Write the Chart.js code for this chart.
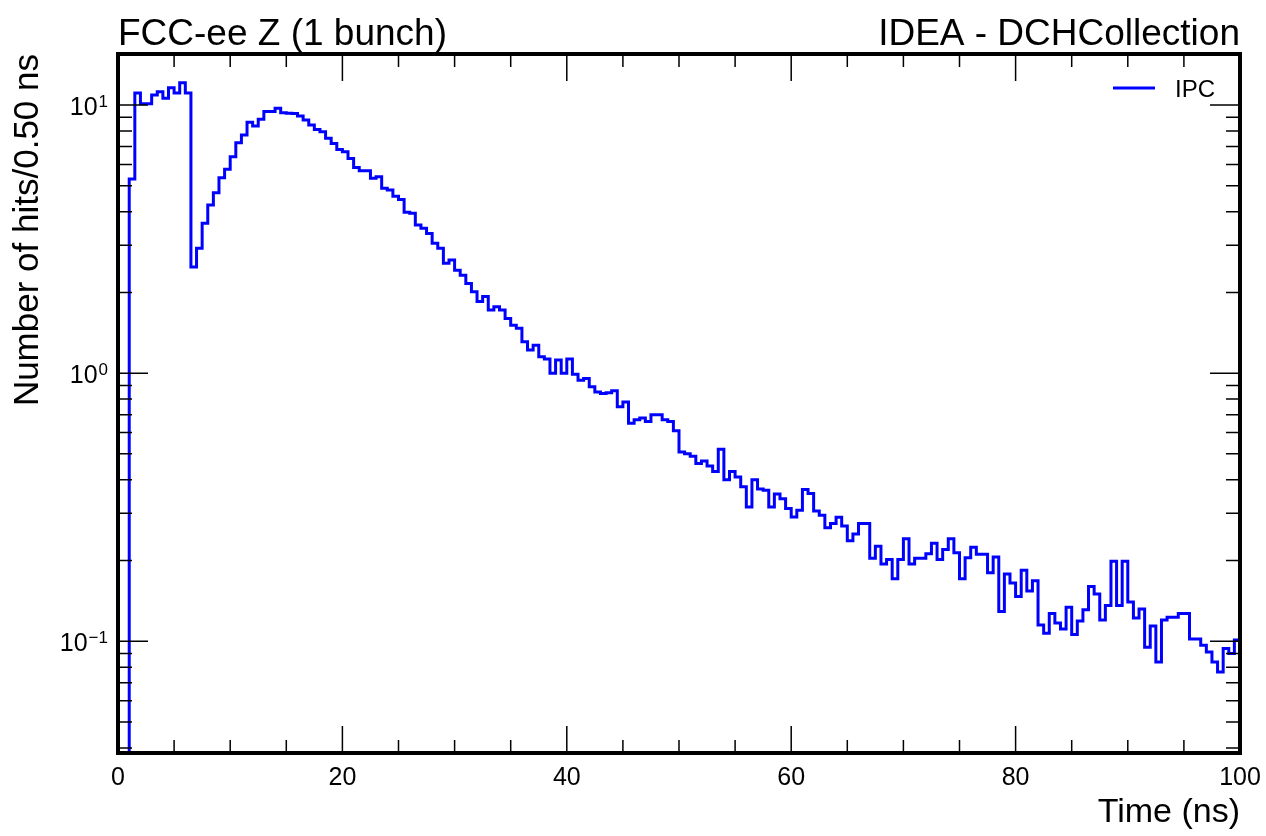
<!DOCTYPE html>
<html>
<head>
<meta charset="utf-8">
<title>DCH hit time</title>
<script src="https://cdn.jsdelivr.net/npm/chart.js@4.4.1/dist/chart.umd.min.js"></script>
<style>
  html, body { margin: 0; padding: 0; background: #fff; }
  canvas { display: block; }
</style>
</head>
<body>
<canvas id="timeChart" width="1266" height="836"></canvas>
<script>
// Hit time distribution, 0.5 ns bins from 0 to 100 ns
const binWidth = 0.5;
const hitsPerBin = [
  0, 0, 5.3, 11.1, 10.1, 10.1, 10.9, 11.2, 10.6, 11.6,
  11.1, 12.1, 11.1, 2.49, 2.92, 3.62, 4.24, 4.71, 5.36, 5.76,
  6.41, 7.23, 7.73, 8.62, 8.35, 8.85, 9.45, 9.45, 9.72, 9.36,
  9.31, 9.3, 9.1, 8.79, 8.42, 8.11, 7.95, 7.51, 7.19, 6.83,
  6.69, 6.32, 5.85, 5.69, 5.69, 5.33, 5.40, 4.89, 4.82, 4.57,
  4.44, 3.98, 3.95, 3.57, 3.47, 3.32, 3.05, 2.92, 2.57, 2.64,
  2.42, 2.32, 2.16, 2.01, 1.85, 1.93, 1.72, 1.77, 1.72, 1.60,
  1.51, 1.47, 1.31, 1.22, 1.27, 1.15, 1.13, 1.00, 1.12, 1.00,
  1.13, 0.99, 0.94, 0.955, 0.89, 0.85, 0.84, 0.845, 0.86, 0.75,
  0.78, 0.65, 0.67, 0.68, 0.66, 0.70, 0.70, 0.67, 0.66, 0.61,
  0.508, 0.50, 0.49, 0.46, 0.47, 0.45, 0.43, 0.52, 0.40, 0.43,
  0.41, 0.377, 0.317, 0.40, 0.37, 0.366, 0.317, 0.354, 0.34, 0.313,
  0.291, 0.308, 0.368, 0.356, 0.306, 0.295, 0.265, 0.275, 0.29, 0.269,
  0.237, 0.251, 0.275, 0.275, 0.204, 0.226, 0.194, 0.202, 0.171, 0.202,
  0.241, 0.194, 0.204, 0.204, 0.212, 0.232, 0.202, 0.22, 0.241, 0.214,
  0.171, 0.205, 0.224, 0.211, 0.211, 0.18, 0.206, 0.129, 0.178, 0.165,
  0.147, 0.184, 0.154, 0.168, 0.115, 0.107, 0.127, 0.117, 0.111, 0.134,
  0.106, 0.119, 0.131, 0.160, 0.150, 0.12, 0.136, 0.199, 0.136, 0.199,
  0.140, 0.122, 0.132, 0.095, 0.114, 0.0837, 0.12, 0.123, 0.123, 0.127,
  0.127, 0.102, 0.102, 0.0966, 0.0912, 0.0837, 0.0768, 0.094, 0.090, 0.101
];
const seriesLabel = 'IPC';
const xTickLabels = [0, 20, 40, 60, 80, 100];
const xMinorStep = 5;
const yDecades = [-1, 0, 1];
const yRange = [0.0383, 15.5];

const titleLeft = 'FCC-ee Z (1 bunch)';
const titleRight = 'IDEA - DCHCollection';
const xLabel = 'Time (ns)';
const yLabel = 'Number of hits/0.50 ns';
const FONT = "'Liberation Sans', Arial, Helvetica, sans-serif";

// points at bin left edges plus a closing point at the last edge;
// empty bins go below the axis floor so the edge drops off the plot
const points = hitsPerBin.map((v, i) => ({ x: i * binWidth, y: v > 0 ? v : yRange[0] / 10 }));
points.push({ x: hitsPerBin.length * binWidth, y: hitsPerBin[hitsPerBin.length - 1] });

// inward ticks on all four sides, thick frame, header texts, legend, 10^n labels
const rootFrame = {
    id: 'rootFrame',
    afterDatasetsDraw(chart) {
        const { ctx, chartArea: a, scales: { x, y } } = chart;
        ctx.save();

        ctx.strokeStyle = '#000';
        ctx.lineWidth = 1.5;
        ctx.beginPath();
        for (let v = x.min; v <= x.max; v += xMinorStep) {
            const px = x.getPixelForValue(v);
            const len = xTickLabels.includes(v) ? 27 : 13;
            ctx.moveTo(px, a.bottom); ctx.lineTo(px, a.bottom - len);
            ctx.moveTo(px, a.top); ctx.lineTo(px, a.top + len);
        }
        for (let e = -2; e <= 1; e++) {
            for (let m = 1; m <= 9; m++) {
                const v = m * Math.pow(10, e);
                if (v < y.min || v > y.max) continue;
                const py = y.getPixelForValue(v);
                const len = m === 1 ? 30 : 14;
                ctx.moveTo(a.left, py); ctx.lineTo(a.left + len, py);
                ctx.moveTo(a.right, py); ctx.lineTo(a.right - len, py);
            }
        }
        ctx.stroke();

        ctx.lineWidth = 4;
        ctx.strokeRect(a.left, a.top, a.right - a.left, a.bottom - a.top);

        // y tick labels as 10 with a raised exponent
        ctx.fillStyle = '#000';
        ctx.textBaseline = 'alphabetic';
        yDecades.forEach(e => {
            const py = y.getPixelForValue(Math.pow(10, e));
            const exp = e < 0 ? '\u2212' + (-e) : String(e);
            ctx.font = `17px ${FONT}`;
            const expW = ctx.measureText(exp).width;
            const right = a.left - 10;
            ctx.textAlign = 'left';
            ctx.fillText(exp, right - expW, py + 2);
            ctx.font = `25px ${FONT}`;
            ctx.textAlign = 'right';
            ctx.fillText('10', right - expW - 1, py + 10);
        });

        // header
        ctx.font = `37px ${FONT}`;
        ctx.textAlign = 'left';
        ctx.fillText(titleLeft, a.left, 45);
        ctx.textAlign = 'right';
        ctx.fillText(titleRight, a.right, 45);

        // legend
        const ds = chart.data.datasets[0];
        ctx.strokeStyle = ds.borderColor;
        ctx.lineWidth = ds.borderWidth;
        ctx.beginPath();
        ctx.moveTo(a.right - 127, a.top + 34);
        ctx.lineTo(a.right - 85, a.top + 34);
        ctx.stroke();
        ctx.font = `24px ${FONT}`;
        ctx.textAlign = 'left';
        ctx.fillText(ds.label, a.right - 65, a.top + 43);

        ctx.restore();
    }
};

document.addEventListener('DOMContentLoaded', function() {
    const ctx = document.getElementById('timeChart').getContext('2d');
    new Chart(ctx, {
        type: 'line',
        data: {
            datasets: [{
                label: seriesLabel,
                data: points,
                stepped: 'before',
                borderColor: '#0000ff',
                borderWidth: 3,
                pointRadius: 0,
                fill: false
            }]
        },
        options: {
            responsive: false,
            animation: false,
            events: [],
            layout: { padding: { top: 54, right: 26, left: 0, bottom: 0 } },
            plugins: {
                legend: { display: false },
                tooltip: { enabled: false }
            },
            scales: {
                x: {
                    type: 'linear',
                    min: 0,
                    max: 100,
                    grid: { display: false, drawTicks: false },
                    border: { display: false },
                    afterBuildTicks: s => { s.ticks = xTickLabels.map(v => ({ value: v })); },
                    // fixed axis height; edge labels may overhang into the page margin
                    afterFit: s => { s.height = 83; s.paddingLeft = 0; s.paddingRight = 0; },
                    ticks: {
                        color: '#000',
                        font: { family: FONT, size: 25 },
                        padding: 10,
                        maxRotation: 0,
                        autoSkip: false
                    },
                    title: {
                        display: true,
                        text: xLabel,
                        align: 'end',
                        color: '#000',
                        font: { family: FONT, size: 34, lineHeight: 1.2 },
                        padding: { top: 0, bottom: 3 }
                    }
                },
                y: {
                    type: 'logarithmic',
                    min: yRange[0],
                    max: yRange[1],
                    grid: { display: false, drawTicks: false },
                    border: { display: false },
                    ticks: { display: false },
                    afterFit: s => { s.width = 118; },
                    title: {
                        display: true,
                        text: yLabel,
                        align: 'end',
                        color: '#000',
                        font: { family: FONT, size: 35, lineHeight: 1.2 },
                        padding: { top: 7, bottom: 0 }
                    }
                }
            }
        },
        plugins: [rootFrame]
    });
});
</script>
</body>
</html>
